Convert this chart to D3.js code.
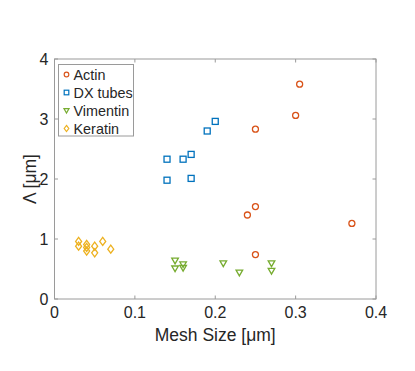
<!DOCTYPE html>
<html>
<head>
<script src="https://cdnjs.cloudflare.com/ajax/libs/d3/7.8.5/d3.min.js"></script>
<style>
  body { margin: 0; background: #fff; }
  text { font-family: "Liberation Sans", Arial, sans-serif; fill: #262626; }
</style>
</head>
<body>
<div id="chart"></div>
<script>
  const width = 415, height = 371;
  const margin = {left: 54.5, top: 59, right: 39, bottom: 72};

  // data
  const actinX = [0.305, 0.30, 0.25, 0.25, 0.24, 0.37, 0.25];
  const actinY = [3.58, 3.06, 2.83, 1.54, 1.40, 1.26, 0.74];
  const dxX = [0.20, 0.19, 0.17, 0.14, 0.16, 0.14, 0.17];
  const dxY = [2.96, 2.80, 2.41, 2.33, 2.33, 1.98, 2.01];
  const vimX = [0.15, 0.15, 0.16, 0.16, 0.21, 0.23, 0.27, 0.27];
  const vimY = [0.64, 0.51, 0.58, 0.52, 0.595, 0.44, 0.595, 0.47];
  const kerX = [0.03, 0.03, 0.04, 0.04, 0.04, 0.05, 0.05, 0.06, 0.07];
  const kerY = [0.96, 0.88, 0.91, 0.86, 0.80, 0.88, 0.77, 0.96, 0.83];

  const xTicks = [0, 0.1, 0.2, 0.3, 0.4];
  const yTicks = [0, 1, 2, 3, 4];

  const series = [
    {name: "Actin", x: actinX, y: actinY, color: "#D95319", symbol: "circle"},
    {name: "DX tubes", x: dxX, y: dxY, color: "#0072BD", symbol: "square"},
    {name: "Vimentin", x: vimX, y: vimY, color: "#77AC30", symbol: "tri"},
    {name: "Keratin", x: kerX, y: kerY, color: "#EDB120", symbol: "diamond"}
  ];

  const svg = d3.select("#chart").append("svg")
    .attr("width", width).attr("height", height);

  const x = d3.scaleLinear().domain([0, 0.4]).range([margin.left, width - margin.right]);
  const y = d3.scaleLinear().domain([0, 4]).range([height - margin.bottom, margin.top]);

  const axisColor = "#9a9a9a";

  // box
  svg.append("rect")
    .attr("x", x(0)).attr("y", y(4))
    .attr("width", x(0.4) - x(0)).attr("height", y(0) - y(4))
    .attr("fill", "none").attr("stroke", axisColor).attr("stroke-width", 1);

  // x ticks (inside, bottom and top)
  xTicks.forEach(t => {
    svg.append("line").attr("x1", x(t)).attr("x2", x(t))
      .attr("y1", y(0)).attr("y2", y(0) - 3.5).attr("stroke", axisColor);
    svg.append("line").attr("x1", x(t)).attr("x2", x(t))
      .attr("y1", y(4)).attr("y2", y(4) + 3.5).attr("stroke", axisColor);
    svg.append("text").attr("x", x(t)).attr("y", y(0) + 19)
      .attr("text-anchor", "middle").attr("font-size", 16)
      .text(t === 0 ? "0" : t.toString());
  });

  yTicks.forEach(t => {
    svg.append("line").attr("x1", x(0)).attr("x2", x(0) + 3.5)
      .attr("y1", y(t)).attr("y2", y(t)).attr("stroke", axisColor);
    svg.append("line").attr("x1", x(0.4)).attr("x2", x(0.4) - 3.5)
      .attr("y1", y(t)).attr("y2", y(t)).attr("stroke", axisColor);
    svg.append("text").attr("x", x(0) - 6).attr("y", y(t) + 6)
      .attr("text-anchor", "end").attr("font-size", 16)
      .text(t);
  });

  // axis labels
  svg.append("text").attr("x", (x(0) + x(0.4)) / 2).attr("y", y(0) + 42)
    .attr("text-anchor", "middle").attr("font-size", 17.5)
    .text("Mesh Size [\u03bcm]");

  svg.append("text")
    .attr("transform", `translate(36,${(y(0) + y(4)) / 2}) rotate(-90)`)
    .attr("text-anchor", "middle").attr("font-size", 17.5)
    .text("\u039b [\u03bcm]");

  function marker(sel, symbol, s) {
    if (symbol === "circle") {
      sel.append("circle").attr("r", s * 0.5);
    } else if (symbol === "square") {
      sel.append("rect").attr("x", -s / 2).attr("y", -s / 2).attr("width", s).attr("height", s);
    } else if (symbol === "tri") {
      const h = s * 0.5;
      sel.append("path").attr("d", `M${-h * 1.1},${-h * 0.8}L${h * 1.1},${-h * 0.8}L0,${h * 1.1}Z`);
    } else {
      const h = s * 0.5;
      sel.append("path").attr("d", `M0,${-h * 1.35}L${h},0L0,${h * 1.35}L${-h},0Z`);
    }
  }

  // points
  series.forEach(s => {
    const g = svg.append("g").attr("fill", "none").attr("stroke", s.color).attr("stroke-width", 1.3);
    s.x.forEach((v, i) => {
      const m = g.append("g").attr("transform", `translate(${x(v)},${y(s.y[i])})`);
      marker(m, s.symbol, 6);
    });
  });

  // legend
  const lg = svg.append("g");
  lg.append("rect").attr("x", 58.5).attr("y", 64.5).attr("width", 75).attr("height", 71.5)
    .attr("fill", "#fff").attr("stroke", axisColor);
  series.forEach((s, i) => {
    const cy = 74.5 + i * 18;
    const m = lg.append("g").attr("transform", `translate(66.5,${cy})`)
      .attr("fill", "none").attr("stroke", s.color).attr("stroke-width", 1.2);
    marker(m, s.symbol, 4.6);
    lg.append("text").attr("x", 73.5).attr("y", cy + 5).attr("font-size", 14.4).text(s.name);
  });
</script>
</body>
</html>
